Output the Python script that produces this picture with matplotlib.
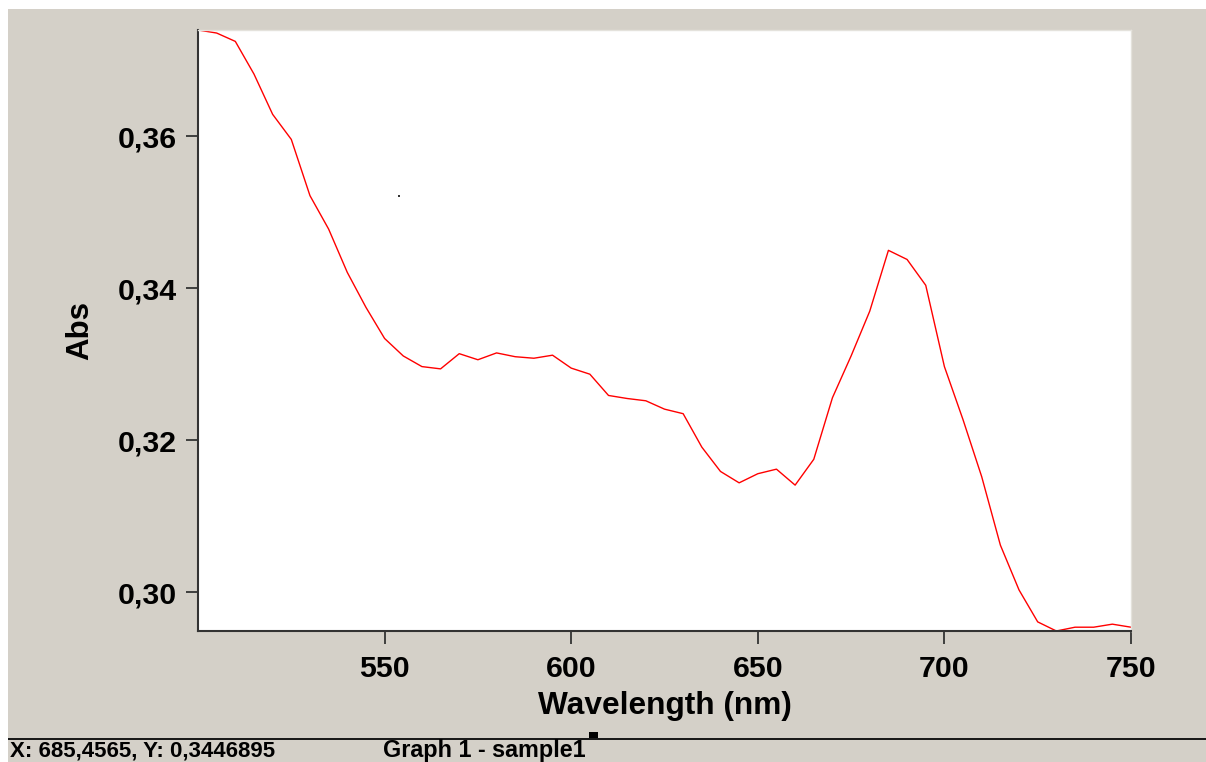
import numpy as np
import matplotlib
matplotlib.use("Agg")
import matplotlib.pyplot as plt
from matplotlib.patches import Rectangle
from matplotlib.ticker import FuncFormatter

# ======================================
# Data (5 nm steps)
# ======================================

wavelength = [500, 505, 510, 515, 520, 525, 530, 535, 540, 545,
              550, 555, 560, 565, 570, 575, 580, 585, 590, 595,
              600, 605, 610, 615, 620, 625, 630, 635, 640, 645,
              650, 655, 660, 665, 670, 675, 680, 685, 690, 695,
              700, 705, 710, 715, 720, 725, 730, 735, 740, 745, 750]

absorbance = [0.3740, 0.3736, 0.3725, 0.3682, 0.3629, 0.3596, 0.3522, 0.3478, 0.3421, 0.3375,
              0.3334, 0.3311, 0.3297, 0.3294, 0.3314, 0.3306, 0.3315, 0.3310, 0.3308, 0.3312,
              0.3295, 0.3287, 0.3259, 0.3255, 0.3252, 0.3241, 0.3235, 0.3191, 0.3159, 0.3144,
              0.3156, 0.3162, 0.3141, 0.3175, 0.3256, 0.3311, 0.3370, 0.3450, 0.3438, 0.3404,
              0.3297, 0.3227, 0.3152, 0.3062, 0.3003, 0.2961, 0.2949, 0.2954, 0.2954, 0.2958,
              0.2954]

# stray cursor dot left on the graph
stray_x = [553.8]
stray_y = [0.3521]

x_ticks = [550, 600, 650, 700, 750]
y_ticks = [0.30, 0.32, 0.34, 0.36]

status_text = "X: 685,4565, Y: 0,3446895"
graph_text = "Graph 1 - sample1"

# ======================================
# Figure
# ======================================

bg = "#d4d0c8"
plt.rcParams["font.family"] = ["Liberation Sans", "DejaVu Sans"]

fig = plt.figure(figsize=(12.06, 7.62), dpi=100)
fig.patch.set_facecolor("white")

W, H = 1206.0, 762.0
# gray window area (white strip on top and left)
fig.patches.append(Rectangle((8 / W, 0), 1 - 8 / W, 1 - 9 / H, transform=fig.transFigure,
                             facecolor=bg, edgecolor="none", zorder=-5))
# status bar separator
fig.patches.append(Rectangle((8 / W, 1 - 740 / H), 1 - 8 / W, 2.5 / H, transform=fig.transFigure,
                             facecolor="#1a1a1a", edgecolor="none", zorder=-4))
fig.patches.append(Rectangle((589 / W, 1 - 738 / H), 9 / W, 6.5 / H, transform=fig.transFigure,
                             facecolor="black", edgecolor="none", zorder=-4))

ax = fig.add_axes([198 / W, 1 - 631 / H, 933 / W, 601 / H])
ax.set_zorder(2)
ax.set_facecolor("white")

ax.plot(wavelength, absorbance, color="red", lw=1.0)
ax.plot(stray_x, stray_y, "s", color="#333333", ms=1.5, mew=0)

ax.set_xlim(min(wavelength), max(wavelength))
ax.set_ylim(min(absorbance), max(absorbance))

ax.set_xticks(x_ticks)
ax.set_yticks(y_ticks)
ax.xaxis.set_major_formatter(FuncFormatter(lambda v, p: "%d" % v))
ax.yaxis.set_major_formatter(FuncFormatter(lambda v, p: ("%.2f" % v).replace(".", ",")))

ax.tick_params(axis="both", direction="out", length=9, width=1.3, color="#333333",
               labelsize=21.8, labelcolor="black")
ax.tick_params(axis="y", pad=6)
ax.tick_params(axis="x", pad=8.5)
for lab in ax.get_xticklabels() + ax.get_yticklabels():
    lab.set_fontweight("bold")

for s in ["left", "bottom"]:
    ax.spines[s].set_color("#333333")
    ax.spines[s].set_linewidth(1.5)
for s in ["top", "right"]:
    ax.spines[s].set_color("#e4e2dc")
    ax.spines[s].set_linewidth(1.0)

ax.set_xlabel("Wavelength (nm)", fontsize=22.8, fontweight="bold", va="center")
ax.set_ylabel("Abs", fontsize=22.5, fontweight="bold", va="center")
ax.xaxis.set_label_coords(0.5, (631 - 706) / 601.0)
ax.yaxis.set_label_coords((80 - 198) / 933.0, 0.5)

# ======================================
# Status bar
# ======================================

fig.text(10 / W, 1 - 757 / H, status_text, fontsize=16, fontweight="bold",
         ha="left", va="baseline")
fig.text(383 / W, 1 - 757 / H, graph_text, fontsize=16.8, fontweight="bold",
         ha="left", va="baseline")

fig.savefig("out.png", dpi=100, facecolor=fig.get_facecolor())
